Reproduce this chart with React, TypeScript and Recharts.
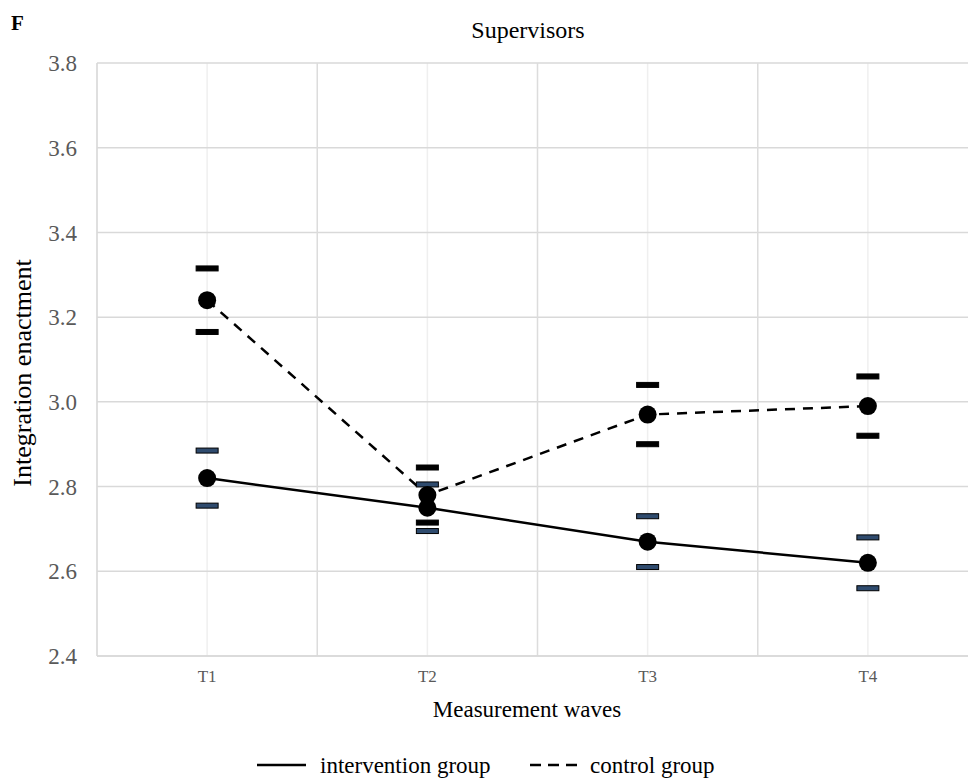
import React from 'react';
import { LineChart, Line, XAxis, YAxis, CartesianGrid, ReferenceLine } from 'recharts';

const waves = ['T1', 'T2', 'T3', 'T4'];
const waveIndex = [1, 2, 3, 4];
const bandEdges = [1.5, 2.5, 3.5, 4.5];
const yTicks = [2.4, 2.6, 2.8, 3.0, 3.2, 3.4, 3.6, 3.8];

const interventionMean = [2.82, 2.75, 2.67, 2.62];
const interventionHigh = [2.885, 2.805, 2.73, 2.68];
const interventionLow = [2.755, 2.695, 2.61, 2.56];

const controlMean = [3.24, 2.78, 2.97, 2.99];
const controlHigh = [3.315, 2.845, 3.04, 3.06];
const controlLow = [3.165, 2.715, 2.9, 2.92];

const data = waves.map((wave, i) => ({
  idx: waveIndex[i],
  wave,
  intervention: interventionMean[i],
  intHi: interventionHigh[i],
  intLo: interventionLow[i],
  control: controlMean[i],
  ctlHi: controlHigh[i],
  ctlLo: controlLow[i],
}));

const font = 'Liberation Serif, serif';

const capShape = (fill: string) => (props: any) => {
  const { cx, cy, index } = props;
  if (cx == null || cy == null) return <g key={`c-${index}`} />;
  return (
    <rect
      key={`c-${fill}-${index}-${cy}`}
      x={cx - 11}
      y={cy - 2.5}
      width={22}
      height={5}
      fill={fill}
      stroke="#000"
      strokeWidth={1}
    />
  );
};

const meanDot = (props: any) => {
  const { cx, cy, index } = props;
  if (cx == null || cy == null) return <g key={`m-${index}`} />;
  return <circle key={`m-${index}-${cy}`} cx={cx} cy={cy} r={9} fill="#000" />;
};

const abs = (style: React.CSSProperties): React.CSSProperties => ({
  position: 'absolute',
  fontFamily: font,
  color: '#000',
  whiteSpace: 'nowrap',
  lineHeight: 1,
  ...style,
});

export default function App() {
  return (
    <div
      style={{
        position: 'absolute',
        left: 0,
        top: 0,
        width: 968,
        height: 778,
        overflow: 'hidden',
        background: '#fff',
      }}
    >
      <LineChart
        width={1000}
        height={778}
        data={data}
        margin={{ top: 63, right: 22, bottom: 92, left: 0 }}
      >
        <CartesianGrid horizontal={false} stroke="#efefef" strokeWidth={1.5} />
        <CartesianGrid vertical={false} stroke="#d9d9d9" strokeWidth={1.5} />
        {bandEdges.map((e) => (
          <ReferenceLine key={e} x={e} stroke="#dcdcdc" strokeWidth={1.5} />
        ))}
        <XAxis
          type="number"
          dataKey="idx"
          domain={[0.5, 4.5]}
          ticks={waveIndex}
          tickFormatter={(v: number) => waves[v - 1]}
          height={30}
          tickSize={0}
          tickMargin={14}
          axisLine={{ stroke: '#d9d9d9', strokeWidth: 1.5 }}
          tick={{ fill: '#595959', fontSize: 17, fontFamily: font }}
        />
        <YAxis
          domain={[2.4, 3.8]}
          ticks={yTicks}
          tickFormatter={(v: number) => v.toFixed(1)}
          width={97}
          tickSize={0}
          tickMargin={20}
          axisLine={{ stroke: '#d9d9d9', strokeWidth: 1.5 }}
          tick={{ fill: '#595959', fontSize: 23, fontFamily: font }}
        />
        <Line dataKey="intHi" stroke="none" dot={capShape('#2f4b6e')} activeDot={false} isAnimationActive={false} legendType="none" />
        <Line dataKey="intLo" stroke="none" dot={capShape('#2f4b6e')} activeDot={false} isAnimationActive={false} legendType="none" />
        <Line dataKey="ctlHi" stroke="none" dot={capShape('#000')} activeDot={false} isAnimationActive={false} legendType="none" />
        <Line dataKey="ctlLo" stroke="none" dot={capShape('#000')} activeDot={false} isAnimationActive={false} legendType="none" />
        <Line
          dataKey="control"
          name="control group"
          stroke="#000"
          strokeWidth={2.5}
          strokeDasharray="10 8"
          dot={meanDot}
          activeDot={false}
          isAnimationActive={false}
        />
        <Line
          dataKey="intervention"
          name="intervention group"
          stroke="#000"
          strokeWidth={2.5}
          dot={meanDot}
          activeDot={false}
          isAnimationActive={false}
        />
      </LineChart>

      <div style={abs({ left: 11, top: 13, fontSize: 21, fontWeight: 'bold' })}>F</div>
      <div style={abs({ left: 528, top: 30, fontSize: 24, transform: 'translate(-50%, -50%)' })}>Supervisors</div>
      <div
        style={abs({
          left: 23,
          top: 373,
          fontSize: 26,
          transform: 'translate(-50%, -50%) rotate(-90deg)',
        })}
      >
        Integration enactment
      </div>
      <div style={abs({ left: 527, top: 709, fontSize: 23, transform: 'translate(-50%, -50%)' })}>
        Measurement waves
      </div>

      <svg style={{ position: 'absolute', left: 0, top: 750 }} width={968} height={30}>
        <line x1={257} x2={306} y1={15} y2={15} stroke="#000" strokeWidth={2.5} />
        <line x1={530} x2={578} y1={15} y2={15} stroke="#000" strokeWidth={2.5} strokeDasharray="11 7" />
      </svg>
      <div style={abs({ left: 320, top: 765, fontSize: 23, transform: 'translateY(-50%)' })}>intervention group</div>
      <div style={abs({ left: 590, top: 765, fontSize: 23, transform: 'translateY(-50%)' })}>control group</div>
    </div>
  );
}
